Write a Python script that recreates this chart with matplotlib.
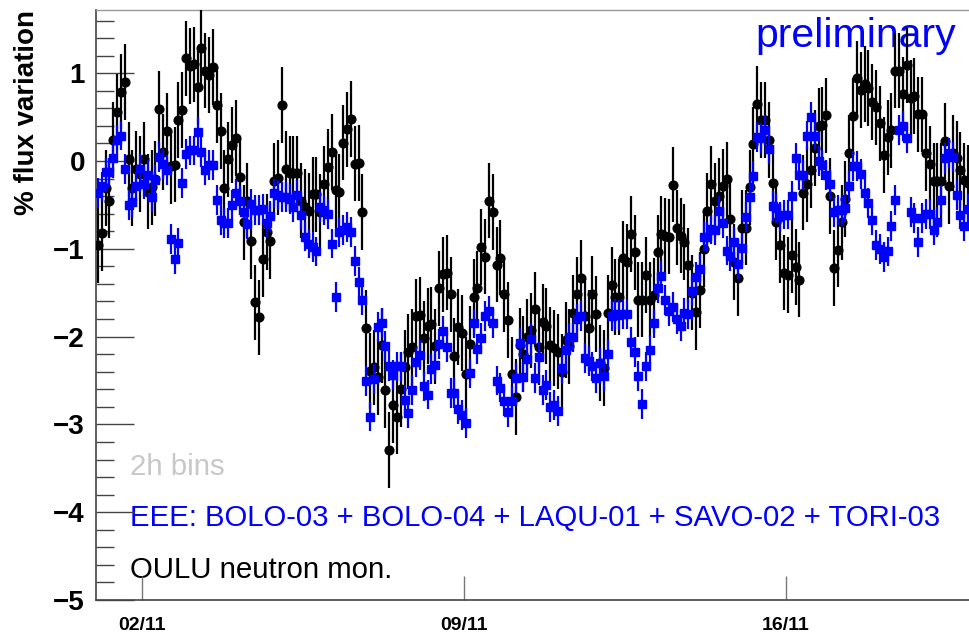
import matplotlib
matplotlib.use("Agg")
import matplotlib.pyplot as plt
import pandas as pd
from matplotlib.ticker import MultipleLocator

plt.rcParams["font.family"] = ["Liberation Sans", "DejaVu Sans"]

# 2h bins starting 01/11, % variation w.r.t. the mean rate
START = "2016-11-01 01:00"

oulu = [
    -0.96, -0.82, -0.31, -0.45, 0.24, 0.56, 0.79, 0.90, 0.02, -0.31,
    -0.09, -0.15, 0.02, -0.35, -0.30, -0.20, 0.59, 0.10, 0.34, -0.06,
    -0.04, 0.47, 0.58, 1.17, 1.08, 1.10, 0.84, 1.29, 1.03, 0.98,
    1.07, 0.64, 0.34, -0.31, 0.02, 0.18, 0.26, -0.18, -0.70, -0.45,
    -0.91, -1.61, -1.78, -1.12, -0.81, -0.91, -0.23, -0.19, 0.64, -0.09,
    -0.14, -0.14, -0.14, -0.45, -0.52, -0.57, -0.38, -0.38, -0.58, -0.26,
    -0.07, 0.10, -0.33, -0.35, 0.21, 0.36, 0.48, -0.03, -0.02, -0.58,
    -1.90, -2.39, -2.35, -2.46, -2.10, -2.61, -3.29, -2.78, -2.91, -2.60,
    -2.35, -2.17, -2.12, -1.77, -1.75, -2.02, -1.88, -1.86, -2.11, -1.45,
    -1.29, -1.27, -1.52, -2.22, -1.89, -1.96, -2.43, -2.08, -1.55, -1.45,
    -0.98, -1.09, -0.45, -0.58, -1.18, -1.10, -1.52, -1.81, -2.43, -2.69,
    -2.10, -2.20, -2.00, -1.93, -1.69, -2.12, -1.83, -1.88, -2.09, -2.13,
    -2.17, -2.40, -2.04, -2.11, -1.73, -1.52, -1.33, -1.77, -1.90, -1.51,
    -1.74, -2.30, -2.36, -1.73, -1.41, -1.55, -1.55, -1.11, -1.15, -0.83,
    -1.04, -1.58, -1.58, -1.30, -1.58, -1.53, -1.04, -0.83, -0.85, -0.86,
    -0.27, -0.76, -0.85, -0.92, -1.19, -1.50, -1.72, -1.47, -1.00, -0.57,
    -0.26, -0.45, -0.40, -0.29, -0.21, -0.66, -1.15, -1.33, -0.76, -0.76,
    -0.30, 0.19, 0.65, 0.47, 0.47, 0.24, -0.25, -0.70, -0.96, -1.27,
    -1.30, -1.07, -1.21, -1.35, -0.36, -0.26, -0.10, 0.15, 0.40, 0.41,
    0.52, -0.40, -1.22, -1.01, -0.70, -0.43, 0.09, 0.51, 0.94, 0.81,
    0.88, 0.83, 0.67, 0.61, 0.43, 0.07, 0.27, 0.35, 1.03, 1.03,
    0.76, 1.09, 0.72, 0.74, 0.53, 0.53, 0.09, -0.03, -0.23, -0.23,
    -0.23, 0.23, -0.29, 0.09, 0.03, -0.10, -0.22, -0.25,
]

eee = [
    -0.36, -0.29, -0.13, -0.13, 0.04, 0.24, 0.29, -0.09, -0.50, -0.47,
    -0.29, -0.09, -0.26, -0.16, -0.41, -0.22, 0.05, -0.03, -0.10, -0.89,
    -1.12, -0.93, -0.25, 0.08, 0.12, 0.12, 0.33, 0.10, -0.10, -0.05,
    -0.05, -0.44, -0.67, -0.71, -0.71, -0.50, -0.37, -0.45, -0.58, -0.72,
    -0.49, -0.56, -0.56, -0.55, -0.71, -0.63, -0.37, -0.39, -0.41, -0.41,
    -0.43, -0.52, -0.39, -0.61, -0.86, -0.94, -0.98, -1.03, -0.52, -0.56,
    -0.60, -0.94, -1.55, -0.81, -0.79, -0.75, -0.81, -1.14, -1.38, -1.58,
    -2.51, -2.91, -2.48, -1.89, -1.84, -2.11, -2.33, -2.44, -2.34, -2.34,
    -2.72, -2.87, -2.61, -2.29, -2.21, -2.56, -2.66, -2.37, -2.32, -2.08,
    -1.94, -2.12, -2.64, -2.64, -2.83, -2.89, -2.98, -2.42, -1.85, -2.14,
    -2.02, -1.77, -1.71, -1.85, -2.50, -2.58, -2.73, -2.86, -2.73, -2.47,
    -2.07, -2.46, -2.25, -2.03, -2.47, -2.23, -2.61, -2.55, -2.80, -2.78,
    -2.85, -2.36, -2.15, -2.01, -2.01, -1.80, -1.77, -2.24, -2.28, -2.34,
    -2.47, -2.30, -2.45, -2.20, -1.77, -1.74, -1.75, -1.74, -1.74, -2.06,
    -2.18, -2.45, -2.77, -2.34, -2.15, -1.85, -1.45, -1.31, -1.58, -1.71,
    -1.66, -1.80, -1.88, -1.73, -1.74, -1.48, -1.32, -1.23, -0.86, -0.86,
    -0.78, -0.79, -0.57, -0.71, -1.02, -1.08, -0.92, -1.17, -0.99, -0.64,
    -0.41, -0.17, 0.27, 0.26, 0.35, 0.14, -0.51, -0.54, -0.64, -0.61,
    -0.61, -0.40, 0.04, -0.16, -0.16, 0.29, 0.50, 0.29, 0.00, -0.05,
    -0.16, -0.26, -0.58, -0.56, -0.56, -0.53, -0.28, -0.06, -0.06, -0.15,
    -0.37, -0.48, -0.67, -0.96, -1.00, -1.09, -1.03, -0.74, -0.44, 0.35,
    0.40, 0.26, -0.58, -0.65, -0.92, -0.65, -0.60, -0.60, -0.79, -0.69,
    -0.44, 0.03, 0.09, 0.05, -0.39, -0.61, -0.74, -0.55,
]

OULU_ERR = 0.43
EEE_ERR = 0.17

day_ticks = ["2016-11-02", "2016-11-09", "2016-11-16"]
day_labels = ["02/11", "09/11", "16/11"]
stations = "EEE: BOLO-03 + BOLO-04 + LAQU-01 + SAVO-02 + TORI-03"

times = pd.date_range(START, periods=len(oulu), freq="2h")

fig = plt.figure(figsize=(9.7, 6.38), dpi=100)
ax = fig.add_axes([96 / 970, 38 / 638, 874 / 970, 590 / 638])

ax.errorbar(times, oulu, yerr=OULU_ERR, fmt="o", color="black", ms=6.3,
            elinewidth=1.6, capsize=0, zorder=3)
ax.errorbar(times, eee, yerr=EEE_ERR, fmt="s", color="blue", ms=6.0,
            elinewidth=1.6, capsize=0, zorder=4)

ax.set_xlim(pd.Timestamp("2016-11-01"), pd.Timestamp("2016-11-20"))
ax.set_ylim(-5, 1.72)
ax.set_yticks(range(-5, 2))
ax.yaxis.set_minor_locator(MultipleLocator(0.2))
ax.set_xticks([pd.Timestamp(d) for d in day_ticks])
ax.set_xticklabels(day_labels)

ax.tick_params(axis="y", which="major", direction="in", length=27, width=1,
               color="#444444", labelsize=20, pad=8)
ax.tick_params(axis="y", which="minor", direction="in", length=13, width=1,
               color="#444444")
ax.tick_params(axis="x", which="major", direction="in", length=17, width=1,
               color="#777777", labelsize=14, pad=12)
for lbl in ax.get_xticklabels() + ax.get_yticklabels():
    lbl.set_fontweight("bold")

for side in ["left", "bottom"]:
    ax.spines[side].set_color("#444444")
    ax.spines[side].set_linewidth(1.2)
for side in ["top", "right"]:
    ax.spines[side].set_color("#999999")
    ax.spines[side].set_linewidth(1.0)

fig.text(27 / 970, 1 - 10 / 638, "% flux variation", rotation=90,
         ha="center", va="top", fontsize=20, fontweight="bold")

# labels sit under the data points
ax.text(130 / 970, 1 - 475 / 638, "2h bins", color="#c8c8c8", fontsize=21.2,
        va="baseline", transform=fig.transFigure, zorder=1)
ax.text(130 / 970, 1 - 526 / 638, stations, color="blue", fontsize=21.2,
        va="baseline", transform=fig.transFigure, zorder=1)
ax.text(130 / 970, 1 - 578 / 638, "OULU neutron mon.", color="black",
        fontsize=21.2, va="baseline", transform=fig.transFigure, zorder=1)
ax.text(755 / 970, 1 - 47 / 638, "preliminary", color="blue", fontsize=29.5,
        va="baseline", transform=fig.transFigure, zorder=1)

fig.savefig("out.png", dpi=100)
